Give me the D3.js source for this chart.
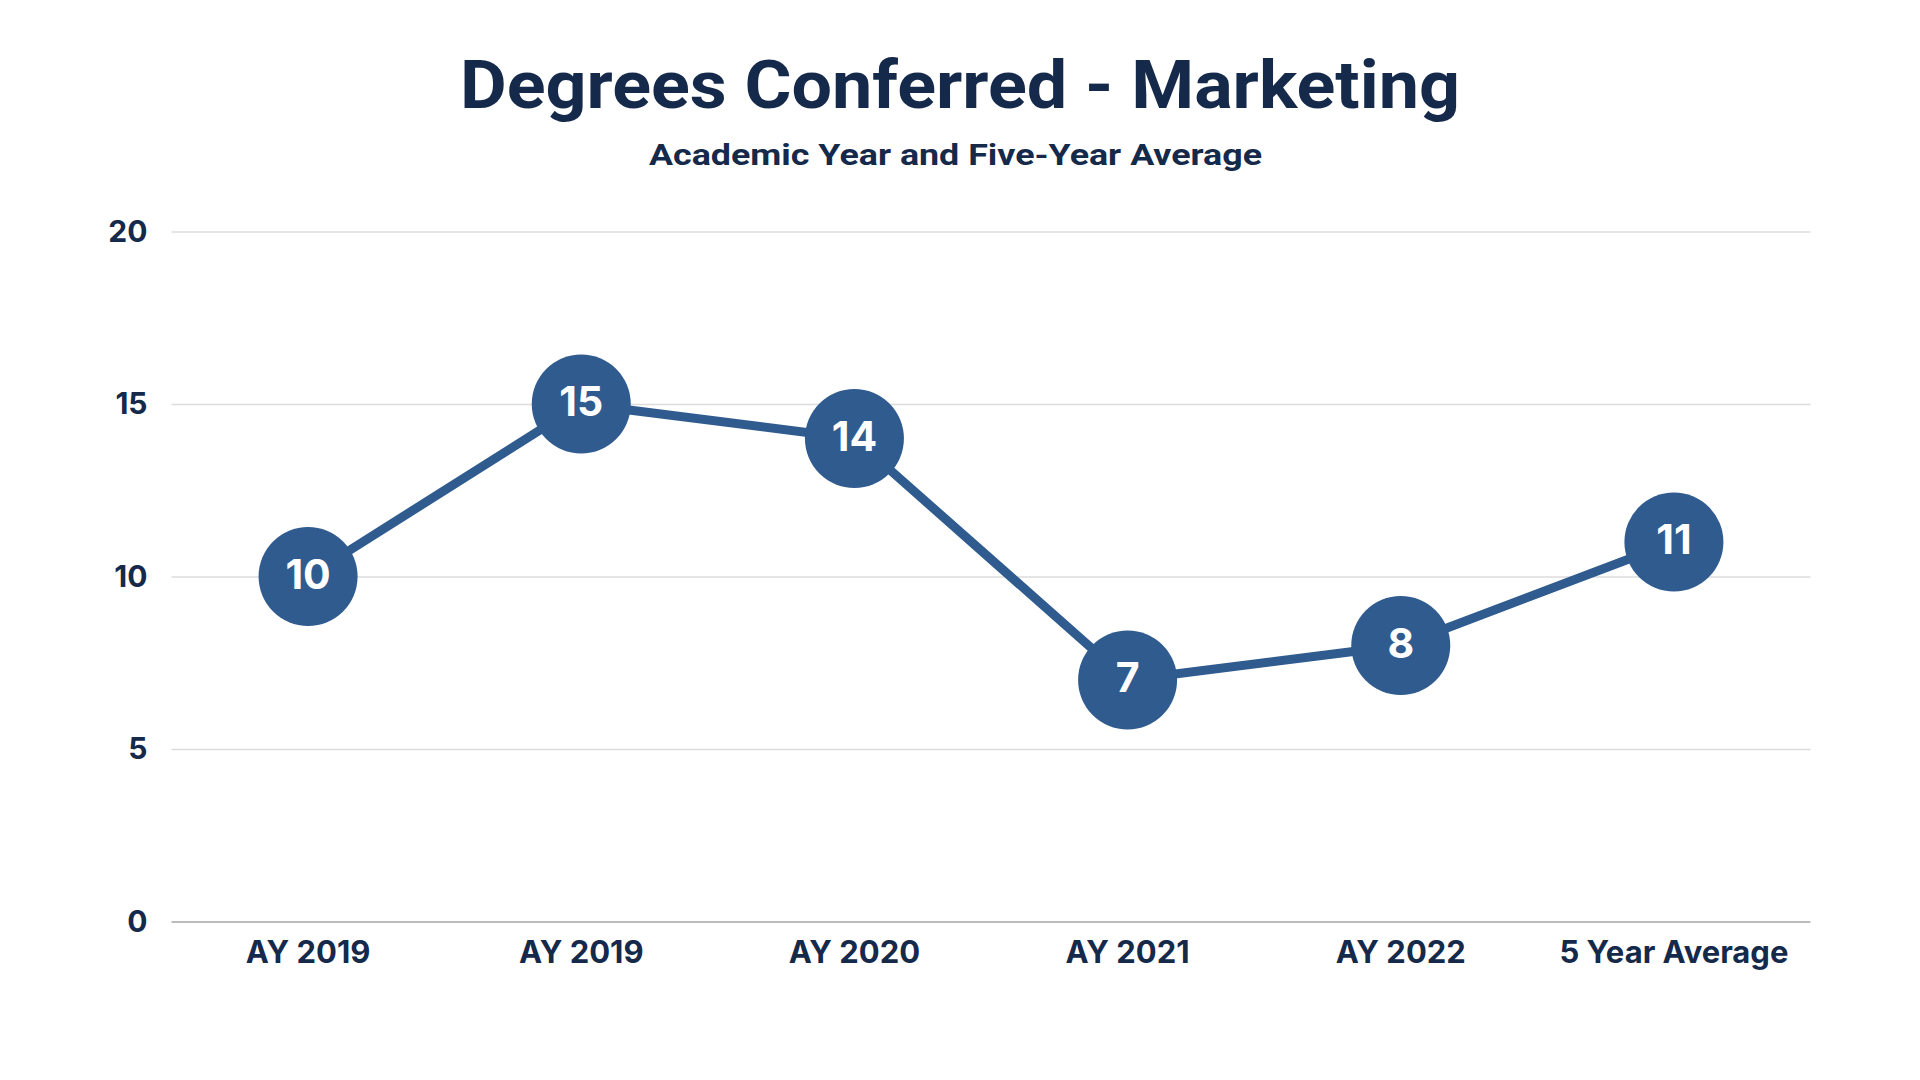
<!DOCTYPE html>
<html><head><meta charset="utf-8">
<script src="https://cdn.jsdelivr.net/npm/d3@7"></script>
<style>
html,body{margin:0;padding:0;background:#fff;}
svg{display:block;}
</style></head>
<body>
<svg id="chart" width="1920" height="1080"></svg>
<script>
const title = "Degrees Conferred - Marketing";
const subtitle = "Academic Year and Five-Year Average";
const categories = ["AY 2019","AY 2019","AY 2020","AY 2021","AY 2022","5 Year Average"];
const values = [10,15,14,7,8,11];
const yTicks = [0,5,10,15,20];

const navy = "#15294b";
const blue = "#2f5b8f";
const svg = d3.select("#chart");
const m = {left:171.5, right:1810.5, top:231.5, bottom:921.5};

const x = d3.scaleBand().domain(d3.range(categories.length)).range([m.left, m.right]);
const y = d3.scaleLinear().domain([0,20]).range([m.bottom, m.top]);
const cx = i => x(i) + x.bandwidth()/2;

// Title
svg.append("text").attr("x",960).attr("y",108).attr("text-anchor","middle")
  .attr("font-family","Roboto, sans-serif").attr("font-weight",700).attr("font-size",66)
  .attr("fill",navy).attr("textLength",1000).attr("lengthAdjust","spacingAndGlyphs").text(title);
svg.append("text").attr("x",955.5).attr("y",165).attr("text-anchor","middle")
  .attr("font-family","Roboto, sans-serif").attr("font-weight",700).attr("font-size",30)
  .attr("fill",navy).attr("textLength",613).attr("lengthAdjust","spacingAndGlyphs").text(subtitle);

// Gridlines
const yAxis = d3.axisLeft(y).tickValues(yTicks).tickSize(0).tickPadding(24);
const gy = svg.append("g").attr("transform",`translate(${m.left},0)`).call(yAxis);
gy.select(".domain").remove();
gy.selectAll(".tick text").attr("font-family","Inter, sans-serif").attr("font-weight",700)
  .attr("font-size",30).attr("fill",navy);
gy.selectAll(".tick").append("line").attr("x1",0).attr("x2",m.right-m.left)
  .attr("stroke",d=>d===0?"#bcbcbc":"#dcdcdc").attr("stroke-width",d=>d===0?2:1.5);

// X axis labels
const xAxis = d3.axisBottom(x).tickSize(0).tickPadding(0).tickFormat(i=>categories[i]);
const gx = svg.append("g").attr("transform",`translate(0,${m.bottom})`).call(xAxis);
gx.select(".domain").remove();
gx.selectAll(".tick text").attr("dy",null).attr("y",41).attr("font-family","Inter, sans-serif")
  .attr("font-weight",700).attr("font-size",31).attr("fill",navy);

// Line
const line = d3.line().x((d,i)=>cx(i)).y(d=>y(d));
svg.append("path").datum(values).attr("d",line).attr("fill","none")
  .attr("stroke",blue).attr("stroke-width",9);

// Points
const pts = svg.append("g").selectAll("g").data(values).join("g")
  .attr("transform",(d,i)=>`translate(${cx(i)},${y(d)})`);
pts.append("circle").attr("r",49.5).attr("fill",blue);
pts.append("text").attr("text-anchor","middle").attr("dy","0.35em").attr("y",-2)
  .attr("font-family","Inter, sans-serif").attr("font-weight",700).attr("font-size",41)
  .attr("fill","#fff").text(d=>d);
</script>
</body></html>
